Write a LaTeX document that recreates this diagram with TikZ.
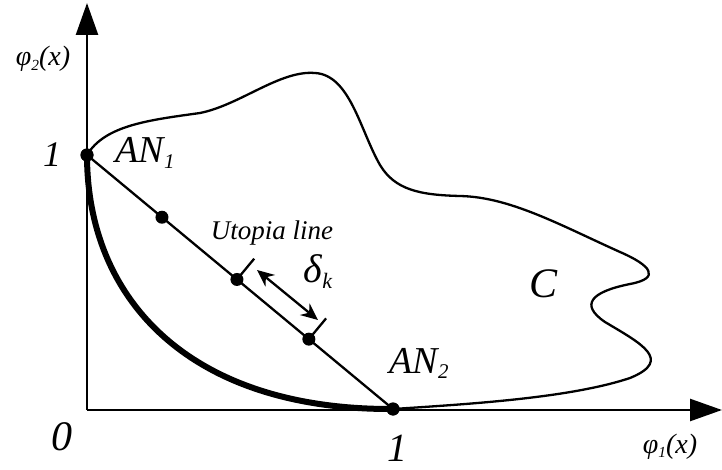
\documentclass[tikz,border=0pt]{standalone}
\usepackage{fontspec}
\setmainfont{Liberation Serif}
\usetikzlibrary{arrows.meta, calc}
\newcommand\lowsub[1]{\raisebox{-0.15em}{\scalebox{0.55}{#1}}}

\begin{document}
\begin{tikzpicture}[
  x=1pt, y=-1pt,
  axis/.style={line width=2.5pt, -{Triangle[length=32pt,width=22pt]}},
  curve/.style={line width=2.3pt},
  dot/.style={circle, fill=black, inner sep=0pt, minimum size=13pt},
  big/.style={font=\fontsize{42}{46}\selectfont\itshape, anchor=base, inner sep=0pt},
  mid/.style={font=\fontsize{38}{42}\selectfont\itshape, anchor=base, inner sep=0pt},
  small/.style={font=\fontsize{27}{30}\selectfont\itshape, anchor=base, inner sep=0pt},
]
  \useasboundingbox (0,0) rectangle (722,470);

  % axes
  \coordinate (O) at (87,410);
  \coordinate (ytop) at (87,3);
  \coordinate (xend) at (722,410);

  % anchor points and points on the utopia line
  \node[dot] (an1) at (87,155) {};
  \node[dot] (an2) at (393,409) {};
  \node[dot] (p1) at ($(an1.center)!0.245!(an2.center)$) {};
  \node[dot] (p2) at ($(an1.center)!0.49!(an2.center)$) {};
  \node[dot] (p3) at ($(an1.center)!0.725!(an2.center)$) {};

  % feasible set C
  \draw[curve] (an1.center) .. controls (105,125) and (150,120) .. (200,113)
    .. controls (240,105) and (280,70) .. (315,73)
    .. controls (350,75) and (360,130) .. (380,165)
    .. controls (395,190) and (420,195) .. (460,196)
    .. controls (510,197) and (560,225) .. (620,252)
    .. controls (650,265) and (662,278) .. (630,284)
    .. controls (590,292) and (580,305) .. (605,322)
    .. controls (640,343) and (674,360) .. (630,378)
    .. controls (570,398) and (470,404) .. (an2.center);

  % Pareto front
  \draw[line width=6pt] (an1.center) .. controls (87,300) and (190,410) .. (an2.center);

  % utopia line
  \draw[curve] (an1.center) -- (an2.center);

  \draw[axis] (O) -- (ytop);
  \draw[axis] (O) -- (xend);

  % step between two points
  \coordinate (t2) at ($(p2.center)!27pt!90:(an2.center)$);
  \coordinate (t3) at ($(p3.center)!27pt!90:(an2.center)$);
  \draw[curve] (p2.center) -- (t2);
  \draw[curve] (p3.center) -- (t3);
  \coordinate (da) at (257,270);
  \coordinate (db) at (318,320);
  \draw[curve, {Stealth[length=17pt,width=15pt]}-{Stealth[length=17pt,width=15pt]}] (da) -- (db);

  \node[dot] at (an1) {};
  \node[dot] at (an2) {};

  % labels
  \node[small] (uline) at (272,240) {Utopia line};
  \node[big, font=\fontsize{40}{44}\selectfont\itshape] (dk) at (318,282) {δ\lowsub{k}};
  \node[big] (lc) at (543,297) {C};
  \node[mid] (lan1) at (145,163) {AN\lowsub{1}};
  \node[mid] (lan2) at (419,373) {AN\lowsub{2}};
  \node[big, font=\fontsize{36}{40}\selectfont\itshape] (one2) at (52,167) {1};
  \node[big, font=\fontsize{40}{44}\selectfont\itshape] (one1) at (397,461) {1};
  \node[big] (zero) at (62,450) {0};
  \node[small, font=\fontsize{28}{32}\selectfont\itshape] (phi2) at (43,66) {φ\lowsub{2}(x)};
  \node[small, font=\fontsize{28}{32}\selectfont\itshape] (phi1) at (670,453) {φ\lowsub{1}(x)};
\end{tikzpicture}
\end{document}
